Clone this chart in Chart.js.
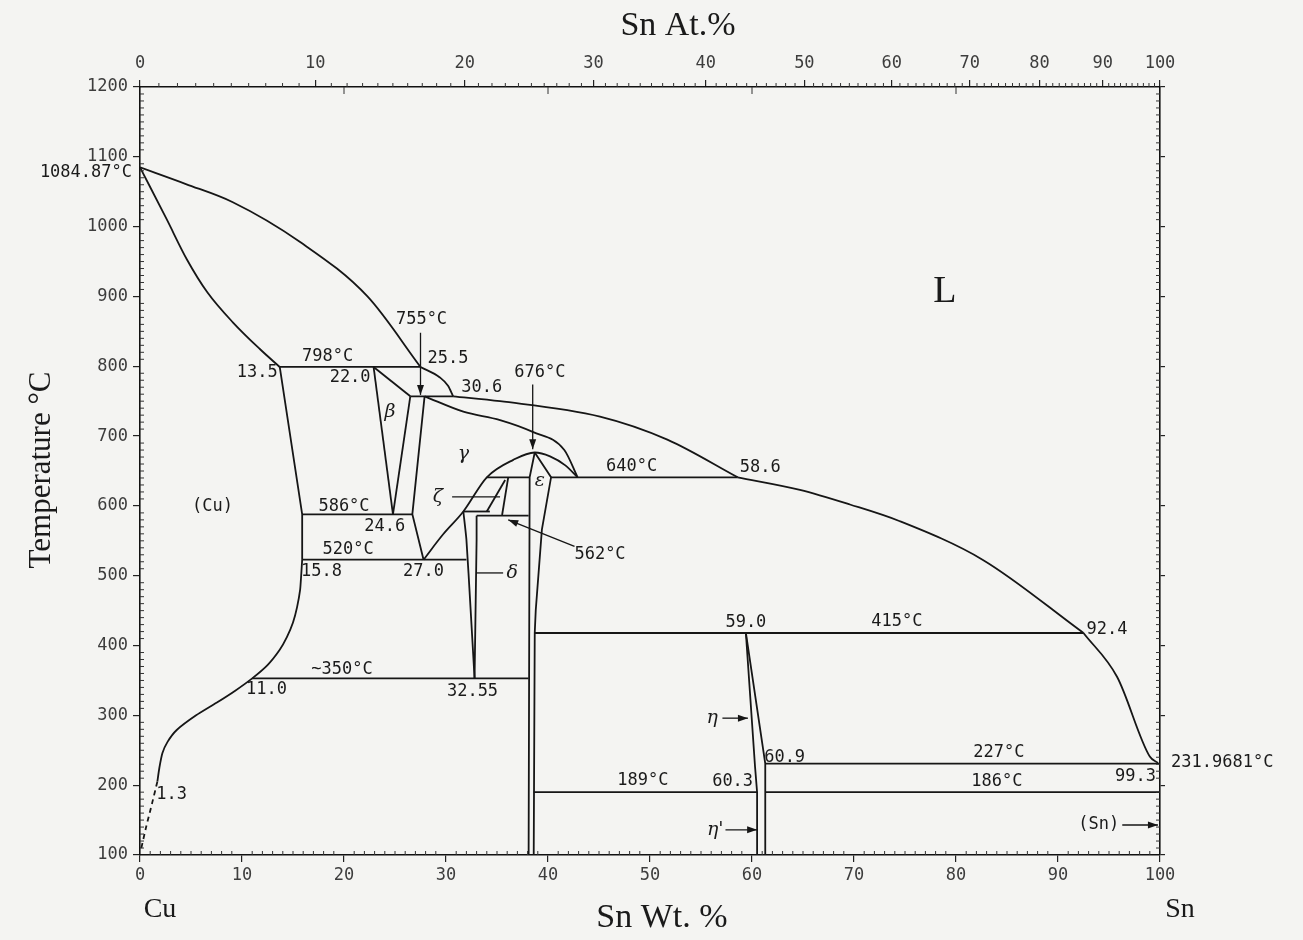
<!DOCTYPE html>
<html>
<head>
<meta charset="utf-8">
<script src="https://cdn.jsdelivr.net/npm/chart.js@4.4.1/dist/chart.umd.min.js"></script>
<style>
  html, body { margin: 0; padding: 0; background: #f4f4f2; }
  canvas { display: block; }
</style>
</head>
<body>
<canvas id="c" width="1303" height="940"></canvas>
<script>
// phase boundaries, points are [Sn wt.%, temperature °C]
const liquidusHigh = [[0, 1084.87], [4.5, 1061], [9.1, 1035], [15.7, 978], [22.3, 900], [27.5, 799]];
const liquidusPeri = [[27.5, 799], [29.4, 784], [30.2, 772], [30.7, 757]];
const liquidusMid = [[30.7, 757], [35.3, 750], [45.1, 728], [51.7, 695], [58.6, 641]];
const liquidusLow = [[58.6, 641], [64.7, 623], [69.6, 602], [74.5, 578], [82.6, 523], [92.5, 418]];
const liquidusSn = [[92.5, 418], [95.8, 355], [99.0, 241], [99.8, 232]];
const solidusCu = [[0, 1084.87], [2.6, 1011], [4.6, 953], [6.6, 906], [9.1, 863], [11.8, 824], [13.7, 799]];
const solvusCuHigh = [[13.7, 799], [15.9, 588], [15.9, 523]];
const solvusCuLow = [[15.9, 523], [15.8, 500], [15.7, 480], [15.4, 455], [15.0, 433], [14.4, 412], [13.7, 394],
  [12.5, 372], [11.0, 353], [9.3, 335], [7.5, 318], [5.5, 300], [3.6, 279], [2.7, 262], [2.2, 246], [1.9, 225], [1.7, 205]];
const solvusCuDashed = [[1.7, 205], [1.2, 175], [0.6, 140], [0.1, 108]];
const betaLeft = [[22.9, 799], [24.8, 588]];
const betaTop = [[22.9, 799], [26.5, 757]];
const betaRight = [[26.5, 757], [24.8, 588]];
const gammaLeft = [[27.9, 757], [26.7, 588], [27.8, 523]];
const gammaSolidus = [[27.9, 757], [31.7, 735], [35.3, 723], [38.5, 706], [41.6, 680], [42.9, 641]];
const gammaDome = [[27.8, 523], [29.7, 559], [31.7, 592], [34.0, 641], [36.6, 666], [38.7, 676.5], [40.2, 671], [41.7, 658], [42.9, 641]];
const epsLeft = [[38.7, 676.5], [38.2, 641], [38.1, 100]];
const epsRight = [[38.7, 676.5], [40.3, 641], [39.4, 566], [38.8, 451], [38.7, 418], [38.6, 100]];
const zetaRight = [[36.1, 641], [35.5, 587]];
const zetaDiag = [[35.8, 637], [34.0, 592]];
const deltaLeft = [[31.7, 592], [32.0, 552], [32.4, 455], [32.8, 353]];
const deltaRight = [[33.0, 586], [33.0, 552], [32.8, 353]];
const etaLeft = [[59.4, 418], [60.3, 226], [60.5, 190], [60.5, 100]];
const etaRight = [[59.4, 418], [61.3, 231], [61.3, 100]];

// invariant (horizontal) lines: [from wt.%, to wt.%, °C]
const isotherms = [
  [13.7, 27.5, 799], [26.5, 30.7, 757], [34.0, 38.2, 641], [40.3, 58.6, 641],
  [15.9, 26.7, 588], [31.7, 34.3, 592], [33.0, 38.1, 586], [15.9, 32.0, 523],
  [11.0, 38.1, 353], [38.7, 92.5, 418], [61.3, 100, 231], [38.6, 60.5, 190], [61.3, 100, 190]
];

// tick labels
const wtTicks = [0, 10, 20, 30, 40, 50, 60, 70, 80, 90, 100];
const atTicks = [0, 10, 20, 30, 40, 50, 60, 70, 80, 90, 100];
const tempTicks = [100, 200, 300, 400, 500, 600, 700, 800, 900, 1000, 1100, 1200];

// text notes: [text, wt.%, °C]
const notes = [
  ['755°C', 27.6, 867], ['25.5', 30.2, 811], ['798°C', 18.4, 814], ['13.5', 11.5, 791],
  ['22.0', 20.6, 784], ['30.6', 33.5, 770], ['676°C', 39.2, 791], ['640°C', 48.2, 656],
  ['58.6', 60.8, 655], ['586°C', 20.0, 599], ['24.6', 24.0, 570], ['520°C', 20.4, 537],
  ['15.8', 17.8, 506], ['27.0', 27.8, 506], ['562°C', 45.1, 530], ['(Cu)', 7.1, 599],
  ['~350°C', 19.8, 365], ['11.0', 12.4, 337], ['32.55', 32.6, 334], ['59.0', 59.4, 433],
  ['415°C', 74.2, 434], ['92.4', 94.8, 423], ['60.9', 63.2, 240], ['227°C', 84.2, 246],
  ['231.9681°C', 106.1, 233], ['99.3', 97.6, 212], ['189°C', 49.3, 206], ['60.3', 58.1, 205],
  ['186°C', 84.0, 205], ['1.3', 3.1, 186], ['(Sn)', 94.0, 143]
];
const phaseNames = [['β', 24.5, 735], ['γ', 31.7, 674], ['ε', 39.2, 635], ['ζ', 29.2, 612],
  ['δ', 36.5, 504], ['η', 56.1, 296], ["η'", 56.4, 136]];
// pointers: [x1, y1, x2, y2, arrowhead]
const pointers = [
  [27.5, 848, 27.5, 759, true], [38.5, 774, 38.5, 681, true], [42.6, 542, 36.1, 580, true],
  [30.6, 613, 35.3, 613, false], [35.6, 504, 33.0, 504, false], [57.1, 296, 59.6, 296, true],
  [57.4, 136, 60.5, 136, true], [96.3, 143, 99.8, 143, true]
];

const atToWt = a => 100 * a * 118.71 / (a * 118.71 + (100 - a) * 63.546);

const INK = '#161616';
const MONO = '"DejaVu Sans Mono", monospace';
const SERIF = '"Liberation Serif", "DejaVu Serif", serif';

function line(pts, extra) {
  return Object.assign({
    data: pts.map(p => ({ x: p[0], y: p[1] })),
    showLine: true, pointRadius: 0, borderColor: INK, borderWidth: 1.8,
    tension: 0, fill: false
  }, extra || {});
}

const smooth = { cubicInterpolationMode: 'monotone' };
const datasets = [
  line(liquidusHigh, smooth), line(liquidusPeri, smooth), line(liquidusMid, smooth),
  line(liquidusLow, smooth), line(liquidusSn, smooth), line(solidusCu, smooth),
  line(solvusCuHigh), line(solvusCuLow, { tension: 0.2 }),
  line(solvusCuDashed, { tension: 0.2, borderDash: [5, 4] }),
  line(betaLeft), line(betaTop), line(betaRight), line(gammaLeft),
  line(gammaSolidus, smooth), line(gammaDome, smooth),
  line(epsLeft), line(epsRight), line(zetaRight), line(zetaDiag),
  line(deltaLeft, { tension: 0.2 }), line(deltaRight), line(etaLeft), line(etaRight)
];
isotherms.forEach(h => datasets.push(line([[h[0], h[2]], [h[1], h[2]]])));

const decor = {
  id: 'decor',
  beforeDraw(chart) {
    const c = chart.ctx;
    c.save();
    c.fillStyle = '#f4f4f2';
    c.fillRect(0, 0, chart.width, chart.height);
    c.restore();
  },
  afterDraw(chart) {
    const c = chart.ctx;
    const sx = chart.scales.x, sy = chart.scales.y, a = chart.chartArea;
    const X = v => sx.getPixelForValue(v), Y = v => sy.getPixelForValue(v);
    c.save();
    // minor ticks
    c.strokeStyle = '#333';
    c.lineWidth = 1;
    c.beginPath();
    for (let v = 1; v < 100; v++) {
      if (v % 10 === 0) continue;
      c.moveTo(X(v), a.bottom); c.lineTo(X(v), a.bottom - 4);
    }
    for (let v = 1; v < 100; v++) {
      if (v % 10 === 0) continue;
      const p = X(atToWt(v));
      c.moveTo(p, a.top); c.lineTo(p, a.top - 4);
    }
    [20, 40, 60, 80].forEach(v => { c.moveTo(X(v), a.top); c.lineTo(X(v), a.top + 7); });
    for (let t = 110; t < 1200; t += 10) {
      if (t % 100 === 0) continue;
      c.moveTo(a.left, Y(t)); c.lineTo(a.left + 4, Y(t));
      c.moveTo(a.right, Y(t)); c.lineTo(a.right - 4, Y(t));
    }
    c.stroke();

    // pointers
    c.strokeStyle = INK;
    c.fillStyle = INK;
    c.lineWidth = 1.3;
    pointers.forEach(p => {
      const x1 = X(p[0]), y1 = Y(p[1]), x2 = X(p[2]), y2 = Y(p[3]);
      c.beginPath(); c.moveTo(x1, y1); c.lineTo(x2, y2); c.stroke();
      if (p[4]) {
        const ang = Math.atan2(y2 - y1, x2 - x1), L = 10, W = 3.5;
        c.beginPath();
        c.moveTo(x2, y2);
        c.lineTo(x2 - L * Math.cos(ang) + W * Math.sin(ang), y2 - L * Math.sin(ang) - W * Math.cos(ang));
        c.lineTo(x2 - L * Math.cos(ang) - W * Math.sin(ang), y2 - L * Math.sin(ang) + W * Math.cos(ang));
        c.closePath(); c.fill();
      }
    });

    // notes
    c.fillStyle = '#1a1a1a';
    c.textBaseline = 'middle';
    c.textAlign = 'center';
    c.font = '17px ' + MONO;
    notes.forEach(n => c.fillText(n[0], X(n[1]), Y(n[2])));
    c.textAlign = 'right';
    c.fillText('1084.87°C', X(0) - 8, Y(1078));
    c.textAlign = 'center';
    c.font = 'italic 19px "DejaVu Serif", serif';
    phaseNames.forEach(n => c.fillText(n[0], X(n[1]), Y(n[2])));

    // titles
    c.font = '38px ' + SERIF;
    c.fillText('L', X(78.9), Y(906));
    c.font = '34px ' + SERIF;
    c.fillText('Sn At.%', 678, 26);
    c.fillText('Sn Wt. %', 662, 918);
    c.font = '28px ' + SERIF;
    c.fillText('Cu', 160, 910);
    c.fillText('Sn', 1180, 910);
    c.translate(42, 470);
    c.rotate(-Math.PI / 2);
    c.font = '31px ' + SERIF;
    c.fillText('Temperature °C', 0, 0);
    c.restore();
  }
};

const tickFont = { family: MONO, size: 17 };
const tickColor = '#3d3d3d';
const gridCfg = { drawOnChartArea: false, tickLength: 7, color: '#222', lineWidth: 1.2 };
const borderCfg = { color: '#111', width: 1.6 };
const plain = v => String(v);

new Chart(document.getElementById('c'), {
  type: 'scatter',
  data: { datasets: datasets },
  options: {
    responsive: false,
    animation: false,
    devicePixelRatio: 1,
    layout: { padding: 0 },
    plugins: { legend: { display: false }, tooltip: { enabled: false } },
    scales: {
      x: {
        type: 'linear', position: 'bottom', min: 0, max: 100,
        afterBuildTicks: s => { s.ticks = wtTicks.map(v => ({ value: v })); },
        afterFit: s => { s.height = 85; },
        grid: gridCfg, border: borderCfg,
        ticks: { font: tickFont, color: tickColor, padding: 3, maxRotation: 0, autoSkip: false, callback: plain }
      },
      xTop: {
        type: 'linear', position: 'top', min: 0, max: 100,
        afterBuildTicks: s => { s.ticks = atTicks.map(v => ({ value: atToWt(v) })); },
        afterFit: s => { s.height = 87; },
        grid: gridCfg, border: borderCfg,
        ticks: { font: tickFont, color: tickColor, padding: 6, maxRotation: 0, autoSkip: false,
          callback: (v, i) => String(atTicks[i]) }
      },
      y: {
        type: 'linear', position: 'left', min: 100, max: 1200,
        afterBuildTicks: s => { s.ticks = tempTicks.map(v => ({ value: v })); },
        afterFit: s => { s.width = 140; },
        grid: gridCfg, border: borderCfg,
        ticks: { font: tickFont, color: tickColor, padding: 5, autoSkip: false, callback: plain }
      },
      yRight: {
        type: 'linear', position: 'right', min: 100, max: 1200,
        afterBuildTicks: s => { s.ticks = tempTicks.map(v => ({ value: v })); },
        afterFit: s => { s.width = 143; },
        grid: Object.assign({}, gridCfg, { tickLength: 5 }), border: borderCfg,
        ticks: { display: false }
      }
    }
  },
  plugins: [decor]
});
</script>
</body>
</html>
